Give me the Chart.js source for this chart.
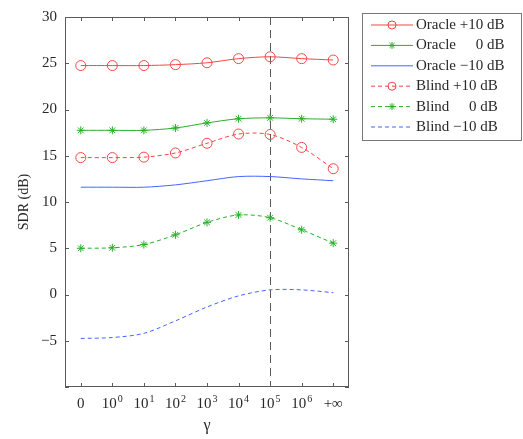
<!DOCTYPE html>
<html>
<head>
<meta charset="utf-8">
<script src="https://cdn.jsdelivr.net/npm/chart.js@4.4.1/dist/chart.umd.min.js"></script>
<style>
  html, body { margin: 0; padding: 0; background: #fff; }
  #wrap { width: 523px; height: 439px; }
</style>
</head>
<body>
<div id="wrap"><canvas id="sdrChart" width="523" height="439"></canvas></div>
<script>
// gamma values on the x axis ("10^k" is drawn with a raised exponent)
const categories = ['0', '10^0', '10^1', '10^2', '10^3', '10^4', '10^5', '10^6', '+∞'];
const yTicks = [-10, -5, 0, 5, 10, 15, 20, 25, 30];

// SDR (dB)
const oraclePlus10  = [24.75, 24.75, 24.75, 24.85, 25.05, 25.5, 25.7, 25.5, 25.35];
const oracle0       = [17.75, 17.75, 17.75, 18.0, 18.55, 19.0, 19.1, 19.0, 18.95];
const oracleMinus10 = [11.6, 11.6, 11.6, 11.85, 12.3, 12.75, 12.75, 12.5, 12.3];
const blindPlus10   = [14.8, 14.8, 14.85, 15.3, 16.35, 17.35, 17.3, 15.9, 13.6];
const blind0        = [5.0, 5.05, 5.4, 6.45, 7.8, 8.6, 8.3, 7.0, 5.55];
const blindMinus10  = [-4.75, -4.65, -4.2, -2.85, -1.35, -0.15, 0.5, 0.5, 0.2];

const labels = ['Oracle +10 dB', 'Oracle 0 dB', 'Oracle −10 dB', 'Blind +10 dB', 'Blind 0 dB', 'Blind −10 dB'];
const markerAt = '10^5';  // dashed vertical line

const RED = 'rgb(245,70,70)';
const GREEN = 'rgb(40,175,40)';
const BLUE = 'rgb(70,100,255)';
const TEXT = 'rgb(40,40,40)';
const FONT = "'Liberation Serif', 'DejaVu Serif', serif";

function series(label, data, color, style, dashed) {
    return {
        label: label,
        data: data,
        borderColor: color,
        backgroundColor: 'rgba(0,0,0,0)',
        borderWidth: 1,
        borderDash: dashed ? [4, 3] : [],
        pointStyle: style || 'circle',
        pointRadius: style ? (style === 'star' ? 4 : 5) : 0,
        pointBorderColor: color,
        pointBorderWidth: 1,
        pointBackgroundColor: 'rgba(0,0,0,0)',
        tension: 0.3
    };
}

// frame, inward ticks, x labels, vertical marker line, custom legend
const decorations = {
    id: 'decorations',
    beforeDatasetsDraw(chart) {
        const { ctx, chartArea: a, scales: { x } } = chart;
        const px = Math.round(x.getPixelForValue(categories.indexOf(markerAt))) + 0.5;
        ctx.save();
        ctx.strokeStyle = 'rgb(90,90,90)';
        ctx.lineWidth = 1;
        ctx.setLineDash([8, 5]);
        ctx.beginPath();
        ctx.moveTo(px, a.top);
        ctx.lineTo(px, a.bottom);
        ctx.stroke();
        ctx.restore();
    },
    afterDraw(chart) {
        const { ctx, chartArea: a, scales: { x, y } } = chart;
        ctx.save();
        ctx.strokeStyle = 'rgb(90,90,90)';
        ctx.lineWidth = 1;
        ctx.strokeRect(a.left + 0.5, a.top + 0.5, a.right - a.left - 1, a.bottom - a.top - 1);
        ctx.beginPath();
        const t = 4;
        categories.forEach((c, i) => {
            const px = Math.round(x.getPixelForValue(i)) + 0.5;
            ctx.moveTo(px, a.bottom); ctx.lineTo(px, a.bottom - t);
            ctx.moveTo(px, a.top); ctx.lineTo(px, a.top + t);
        });
        yTicks.forEach(v => {
            const py = Math.round(y.getPixelForValue(v)) + 0.5;
            ctx.moveTo(a.left, py); ctx.lineTo(a.left + t, py);
            ctx.moveTo(a.right, py); ctx.lineTo(a.right - t, py);
        });
        ctx.stroke();

        // x tick labels with superscript exponents
        ctx.fillStyle = TEXT;
        ctx.textBaseline = 'alphabetic';
        const base = a.bottom + 21;
        categories.forEach((c, i) => {
            const px = x.getPixelForValue(i);
            const parts = c.split('^');
            ctx.font = '15px ' + FONT;
            if (parts.length === 1) {
                ctx.textAlign = 'center';
                ctx.fillText(c, px, base);
                return;
            }
            const w1 = ctx.measureText(parts[0]).width;
            ctx.font = '10px ' + FONT;
            const w2 = ctx.measureText(parts[1]).width;
            const left = px - (w1 + w2 + 1) / 2;
            ctx.textAlign = 'left';
            ctx.font = '15px ' + FONT;
            ctx.fillText(parts[0], left, base);
            ctx.font = '10px ' + FONT;
            ctx.fillText(parts[1], left + w1 + 1, base - 6);
        });

        // legend box
        const bx = 362, by = 13, bw = 159, bh = 127;
        ctx.strokeStyle = 'rgb(120,120,120)';
        ctx.strokeRect(bx + 0.5, by + 0.5, bw, bh);
        ctx.font = '15px ' + FONT;
        ctx.textBaseline = 'middle';
        chart.data.datasets.forEach((ds, i) => {
            const ry = 25 + i * 20.4;
            ctx.save();
            ctx.strokeStyle = ds.borderColor;
            ctx.setLineDash(ds.borderDash);
            ctx.beginPath();
            ctx.moveTo(371, ry); ctx.lineTo(413, ry);
            ctx.stroke();
            ctx.setLineDash([]);
            if (ds.pointRadius > 0) {
                ctx.fillStyle = ds.pointStyle === 'star' ? ds.borderColor : 'rgba(0,0,0,0)';
                Chart.helpers.drawPoint(ctx, {
                    pointStyle: ds.pointStyle,
                    radius: ds.pointStyle === 'star' ? 3.5 : 4,
                    borderWidth: 1
                }, 392, ry);
            }
            ctx.restore();
            ctx.fillStyle = TEXT;
            const sp = ds.label.indexOf(' ');
            const name = ds.label.slice(0, sp);
            const level = ds.label.slice(sp + 1);
            const right = 416 + ctx.measureText(name + ' ').width + ctx.measureText('−10 dB').width;
            ctx.textAlign = 'left';
            ctx.fillText(name, 416, ry);
            ctx.textAlign = 'right';
            ctx.fillText(level, right, ry);
        });
        ctx.restore();
    }
};

new Chart(document.getElementById('sdrChart'), {
    type: 'line',
    data: {
        labels: categories,
        datasets: [
            series(labels[0], oraclePlus10, RED, 'circle', false),
            series(labels[1], oracle0, GREEN, 'star', false),
            series(labels[2], oracleMinus10, BLUE, null, false),
            series(labels[3], blindPlus10, RED, 'circle', true),
            series(labels[4], blind0, GREEN, 'star', true),
            series(labels[5], blindMinus10, BLUE, null, true)
        ]
    },
    options: {
        responsive: false,
        animation: false,
        layout: { padding: { left: 0, right: 174, top: 13, bottom: 0 } },
        plugins: { legend: { display: false }, tooltip: { enabled: false } },
        scales: {
            x: {
                offset: true,
                grid: { display: false, drawTicks: false },
                border: { display: false },
                ticks: {
                    autoSkip: false, maxRotation: 0, padding: 8,
                    color: 'rgba(0,0,0,0)', font: { family: FONT, size: 15 }
                },
                title: {
                    display: true, text: 'γ', color: TEXT,
                    font: { family: FONT, size: 16 }, padding: { top: 0, bottom: 4 }
                },
                afterFit(scale) { scale.height = 52; }
            },
            y: {
                min: -10, max: 30,
                grid: { display: false, drawTicks: false },
                border: { display: false },
                ticks: {
                    stepSize: 5, padding: 8, color: TEXT,
                    font: { family: FONT, size: 15 },
                    callback: v => v === -10 ? '' : (v < 0 ? '−' + (-v) : String(v))
                },
                title: {
                    display: true, text: 'SDR (dB)', color: TEXT,
                    font: { family: FONT, size: 14 }, padding: { top: 16, bottom: 0 }
                },
                afterFit(scale) { scale.width = 65; }
            }
        }
    },
    plugins: [decorations]
});
</script>
</body>
</html>
